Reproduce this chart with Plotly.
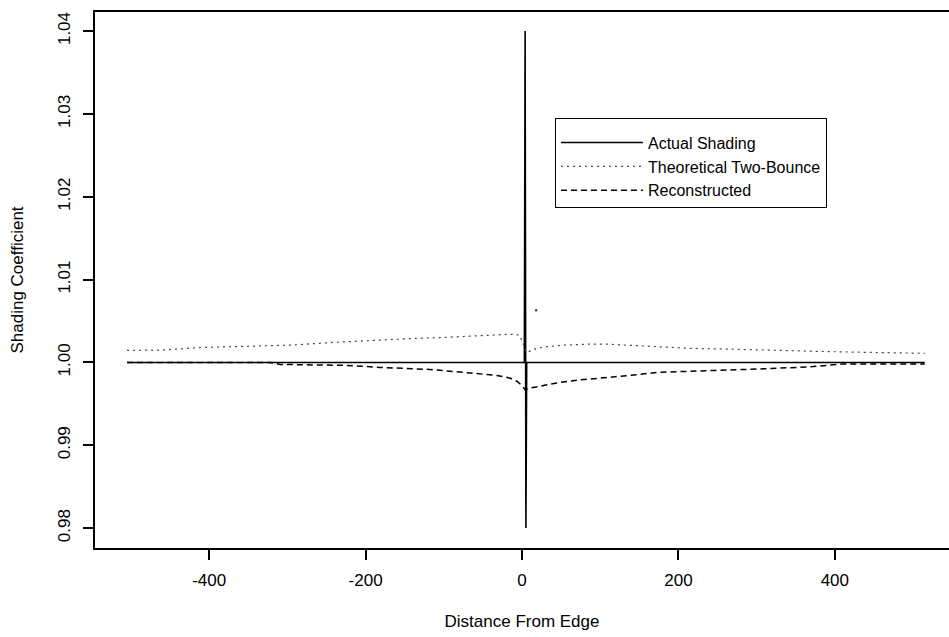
import plotly.graph_objects as go

# ---- data ----
x_actual = [-505, 3, 4, 5, 6, 515]
y_actual = [1.0, 1.0, 1.04, 0.98, 1.0, 1.0]

x_theoretical = [-505, -460, -411, -373, -335, -293, -245, -207, -181, -139, -105, -66, -32, -15, -3,
                 6, 19, 32, 55, 83, 110, 134, 164, 215, 266, 300, 350, 394, 450, 498, 515]
y_theoretical = [1.00145, 1.0015, 1.0018, 1.0019, 1.0020, 1.0021, 1.0024, 1.0026, 1.0027, 1.0029, 1.0030,
                 1.0032, 1.0034, 1.0034, 1.0033,
                 1.0012, 1.0017, 1.0019, 1.0021, 1.0022, 1.0022, 1.0021, 1.0019, 1.0017, 1.0016, 1.0015,
                 1.0014, 1.0013, 1.0012, 1.0011, 1.0011]

x_theoretical_outlier = [18]
y_theoretical_outlier = [1.0063]

x_reconstructed = [-505, -460, -400, -350, -322, -309, -270, -224, -181, -150, -118, -75, -50, -32, -15, -6,
                   0, 4, 10, 20, 32, 50, 74, 100, 125, 150, 173, 210, 244, 300, 340, 372, 409, 450, 515]
y_reconstructed = [1.0, 1.0, 1.0, 1.0, 1.0, 0.99976, 0.9997, 0.99964, 0.9994, 0.99928, 0.99915, 0.9988,
                   0.99862, 0.99843, 0.9981, 0.9977, 0.9972, 0.9967, 0.9969, 0.9971, 0.9973, 0.9976,
                   0.9979, 0.9981, 0.9983, 0.99855, 0.9988, 0.9989, 0.9990, 0.9992, 0.99935, 0.9995,
                   0.9998, 0.9998, 0.9998]

x_ticks = [-400, -200, 0, 200, 400]
x_ticktext = ["-400", "-200", "0", "200", "400"]
y_ticks = [0.98, 0.99, 1.00, 1.01, 1.02, 1.03, 1.04]
y_ticktext = ["0.98", "0.99", "1.00", "1.01", "1.02", "1.03", "1.04"]

series_names = ["Actual Shading", "Theoretical Two-Bounce", "Reconstructed"]

# ---- figure ----
fig = go.Figure()
fig.add_trace(go.Scatter(x=x_actual, y=y_actual, mode="lines", name=series_names[0],
                         line=dict(color="black", width=1.6)))
fig.add_trace(go.Scatter(x=x_theoretical, y=y_theoretical, mode="lines", name=series_names[1],
                         legendgroup="theo",
                         line=dict(color="#444444", width=1.2, dash="2px,4px")))
fig.add_trace(go.Scatter(x=x_theoretical_outlier, y=y_theoretical_outlier, mode="markers",
                         legendgroup="theo", showlegend=False,
                         marker=dict(color="#444444", size=2.5)))
fig.add_trace(go.Scatter(x=x_reconstructed, y=y_reconstructed, mode="lines", name=series_names[2],
                         line=dict(color="black", width=1.5, dash="6px,4px")))

font_family = "Liberation Sans, Arial, sans-serif"

fig.update_layout(
    width=949, height=637,
    margin=dict(l=95, r=0, t=12, b=89),
    paper_bgcolor="white", plot_bgcolor="white",
    font=dict(family=font_family, size=17, color="black"),
    showlegend=True,
    legend=dict(x=0.5386, y=0.802, xanchor="left", yanchor="top",
                bordercolor="black", borderwidth=1, bgcolor="white",
                font=dict(size=16), itemwidth=82, tracegroupgap=0,
                title=dict(text=" ", font=dict(size=5))),
    xaxis=dict(range=[-546, 546], tickvals=x_ticks, ticktext=x_ticktext,
               showgrid=False, zeroline=False,
               showline=True, mirror=True, linecolor="black", linewidth=1.5,
               ticks="outside", ticklen=10, tickwidth=1.5, tickcolor="black",
               ticklabelstandoff=6,
               title=dict(text="Distance From Edge", standoff=26, font=dict(size=17))),
    yaxis=dict(range=[0.9776, 1.0423], tickvals=y_ticks, ticktext=y_ticktext, tickangle=-90,
               showgrid=False, zeroline=False,
               showline=True, mirror=False, linecolor="black", linewidth=1.5,
               ticks="outside", ticklen=10, tickwidth=1.5, tickcolor="black",
               ticklabelstandoff=6,
               title=dict(text="Shading Coefficient", standoff=28, font=dict(size=17))),
)

fig.write_html("out.html",
               config={"displayModeBar": False},
               post_script="document.body.style.margin='0px';document.body.style.overflow='hidden';")
